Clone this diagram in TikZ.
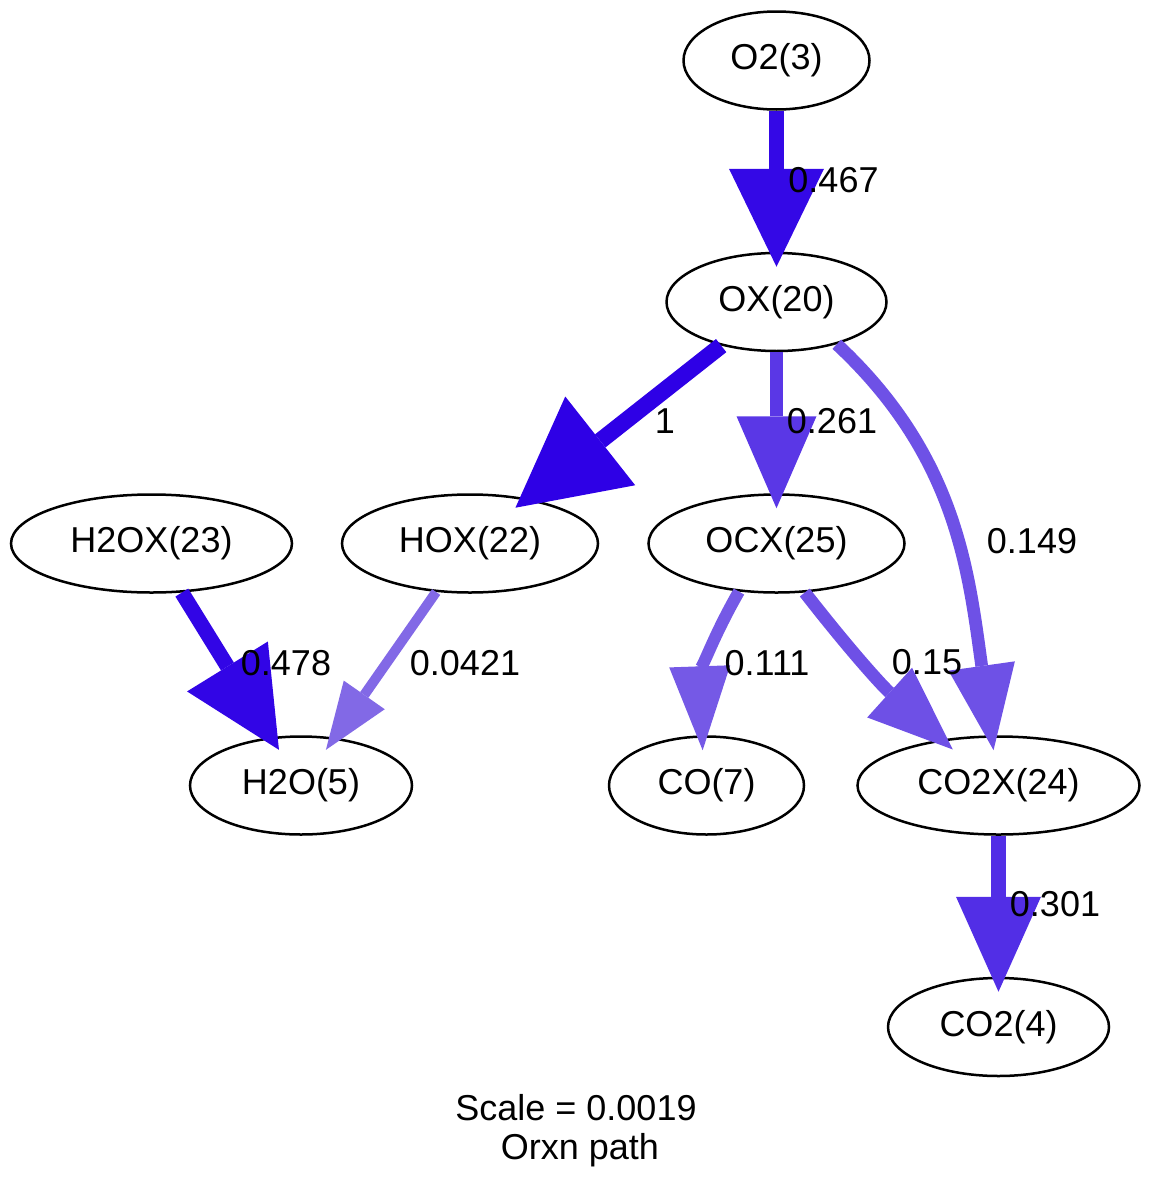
\documentclass[tikz,border=0pt]{standalone}
\usepackage{fontspec}
\setmainfont{Liberation Sans}
\usepackage{tikz}
\usetikzlibrary{arrows.meta,shapes.geometric}
\definecolor{f1}{RGB}{46,0,230}
\definecolor{f478}{RGB}{50,5,230}
\definecolor{f467}{RGB}{52,8,230}
\definecolor{f301}{RGB}{82,46,230}
\definecolor{f261}{RGB}{90,55,230}
\definecolor{f15}{RGB}{110,80,230}
\definecolor{f149}{RGB}{110,81,230}
\definecolor{f111}{RGB}{117,89,230}
\definecolor{f0421}{RGB}{130,105,230}
\tikzset{spc/.style={ellipse,draw,line width=2.5pt,minimum height=98pt,inner sep=0pt},
  flux/.style n args={4}{draw=#1,line width=#2pt,-{Triangle[length=#3pt 0 0,width=#4pt 0 0,line width=0pt 0 0]},shorten >=-15pt},
  lbl/.style={anchor=base}}

\begin{document}
\begin{tikzpicture}[x=1pt,y=-1pt,font=\fontsize{36}{43}\selectfont]
  \useasboundingbox (0,0) rectangle (1151,1194);
  \foreach \nm/\xx/\yy/\ew/\tx in {o2/776.5/60.5/186/O2(3), ox/776.5/302/220/OX(20), h2ox/151.5/543.5/281/H2OX(23), hox/470/543.5/256/HOX(22), ocx/776.5/543.5/256/OCX(25), h2o/301/785.5/222/H2O(5), co/706.5/785.5/195/CO(7), co2x/998.5/785.5/282/CO2X(24), co2/998.5/1027/221/CO2(4)}
    \node[spc,minimum width=\ew pt] (\nm) at (\xx,\yy) {\tx};
  \foreach \sa/\sb/\cl/\lw/\al/\aw in {o2/ox/f467/15.1/98/95, ox/hox/f1/16.7/108/113, ox/ocx/f261/13.9/92/80, h2ox/h2o/f478/15.1/98/95, hox/h2o/f0421/10/67/50, co2x/co2/f301/14.1/95/85}
    \draw[flux={\cl}{\lw}{\al}{\aw}] (\sa) -- (\sb);
  \draw[flux={f149}{12.7}{85}{67}] (ox.-35) to[out=-43,in=98] (co2x.98);
  \draw[flux={f111}{12.1}{84}{61}] (ocx.-128) to[out=-120,in=92] (co.95);
  \draw[flux={f15}{12.7}{85}{67}] (ocx.-60) to[bend right=5] (co2x.141);
  \foreach \nm/\xx/\yy/\tx in {l467/833.5/192/0.467, l1/665/433/1, l261/832/433/0.261, l149/1032/553/0.149, l478/286/675/0.478, l0421/465/675/0.0421, l111/767/675/0.111, l15/927/674/0.15, l301/1055/916/0.301}
    \node[lbl] (\nm) at (\xx,\yy) {\tx};
  \node[lbl] (scale) at (576,1120) {Scale = 0.0019};
  \node[lbl] (title) at (580,1159) {Orxn path};
\end{tikzpicture}
\end{document}
